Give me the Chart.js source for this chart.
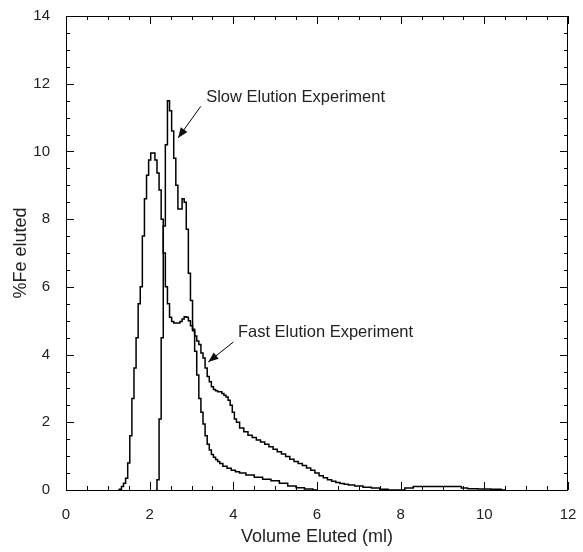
<!DOCTYPE html>
<html>
<head>
<meta charset="utf-8">
<script src="https://cdn.jsdelivr.net/npm/chart.js@4/dist/chart.umd.min.js"></script>
<style>
  html, body { margin: 0; padding: 0; background: #fff; }
  #wrap { width: 583px; height: 552px; }
</style>
</head>
<body>
<div id="wrap"><canvas id="myChart" width="583" height="552"></canvas></div>
<script>
// volume eluted (ml) / %Fe eluted
const fastX = [1.25, 1.30, 1.35, 1.40, 1.45, 1.50, 1.55, 1.60, 1.65, 1.70, 1.75, 1.80, 1.85, 1.90, 1.95,
  2.00, 2.05, 2.10, 2.15, 2.20, 2.25, 2.30, 2.35, 2.40, 2.45, 2.50, 2.55, 2.60, 2.65, 2.70, 2.75,
  2.80, 2.85, 2.90, 2.95, 3.00, 3.05, 3.10, 3.15, 3.20, 3.25, 3.30, 3.35, 3.40, 3.45, 3.50, 3.55,
  3.60, 3.65, 3.70, 3.75, 3.80, 3.85, 3.90, 3.95, 4.00, 4.05, 4.10, 4.20, 4.30, 4.40, 4.50, 4.60,
  4.70, 4.80, 4.90, 5.00, 5.10, 5.20, 5.30, 5.40, 5.50, 5.60, 5.70, 5.80, 5.90, 6.00, 6.10, 6.20,
  6.30, 6.40, 6.50, 6.60, 6.70, 6.80, 7.00, 7.20, 7.40, 7.60, 7.80, 8.00, 8.20, 8.40, 8.60, 8.80,
  9.00, 9.20, 9.40, 9.50, 9.70, 10.00, 10.30, 10.50];
const fastY = [0, 0.02, 0.1, 0.2, 0.35, 0.8, 1.6, 2.7, 3.6, 4.5, 5.5, 6.0, 7.5, 8.6, 9.3,
  9.75, 9.95, 9.95, 9.75, 9.36, 8.86, 8.0, 7.0, 6.0, 5.5, 5.1, 4.98, 4.93, 4.93, 4.93, 4.98,
  5.05, 5.12, 5.1, 5.0, 4.85, 4.75, 4.55, 4.4, 4.3, 4.05, 3.9, 3.6, 3.35, 3.2, 3.05, 2.97,
  2.93, 2.9, 2.9, 2.85, 2.8, 2.75, 2.65, 2.5, 2.3, 2.1, 2.0, 1.83, 1.72, 1.62, 1.55, 1.48,
  1.42, 1.35, 1.28, 1.2, 1.13, 1.06, 0.99, 0.91, 0.84, 0.78, 0.72, 0.65, 0.58, 0.5, 0.42, 0.36,
  0.3, 0.26, 0.22, 0.19, 0.17, 0.15, 0.12, 0.08, 0.06, 0.02, 0, 0, 0.06, 0.1, 0.1, 0.1,
  0.1, 0.1, 0.1, 0.06, 0.04, 0.03, 0.02, 0];

const slowX = [2.15, 2.20, 2.25, 2.30, 2.35, 2.40, 2.45, 2.50, 2.55, 2.60, 2.65, 2.70, 2.75, 2.80,
  2.85, 2.90, 2.95, 3.00, 3.05, 3.10, 3.15, 3.20, 3.25, 3.30, 3.35, 3.40, 3.45, 3.50, 3.55, 3.60,
  3.65, 3.70, 3.80, 3.90, 4.00, 4.10, 4.20, 4.40, 4.60, 4.80, 5.00, 5.20, 5.40, 5.60, 5.80, 6.00];
const slowY = [0, 0.3, 2.1, 4.5, 7.8, 10.2, 11.5, 11.2, 10.6, 9.8, 9.0, 8.3, 8.3, 8.6,
  8.5, 7.7, 6.4, 5.6, 4.7, 4.1, 3.4, 2.7, 2.3, 1.95, 1.6, 1.35, 1.18, 1.05, 0.97, 0.9,
  0.84, 0.78, 0.7, 0.64, 0.58, 0.54, 0.5, 0.44, 0.38, 0.32, 0.27, 0.2, 0.12, 0.07, 0.03, 0];

const xTicks = [0, 2, 4, 6, 8, 10, 12];
const yTicks = [0, 2, 4, 6, 8, 10, 12, 14];

// labels + arrows (data coords)
const notes = [
  { text: 'Slow Elution Experiment', x: 3.35, y: 11.6, from: [3.22, 11.33], to: [2.68, 10.4] },
  { text: 'Fast Elution Experiment', x: 4.11, y: 4.64, from: [4.0, 4.37], to: [3.4, 3.78] }
];

const fontFam = '"Liberation Sans", Arial, Helvetica, sans-serif';

const frameTicks = {
  id: 'frameTicks',
  afterDatasetsDraw(chart) {
    const ctx = chart.ctx;
    const a = chart.chartArea;
    const xs = chart.scales.x, ys = chart.scales.y;
    ctx.save();
    ctx.strokeStyle = '#000';
    ctx.lineWidth = 1;
    ctx.strokeRect(a.left + 0.5, a.top + 0.5, a.right - a.left - 1, a.bottom - a.top);
    for (let v = 0; v <= 12.001; v += 0.5) {
      const px = Math.round(xs.getPixelForValue(v)) + 0.5;
      const len = (Math.abs(v % 2) < 0.01) ? 8 : 4;
      ctx.beginPath();
      ctx.moveTo(px, a.bottom); ctx.lineTo(px, a.bottom - len);
      ctx.moveTo(px, a.top); ctx.lineTo(px, a.top + len);
      ctx.stroke();
    }
    for (let v = 0; v <= 14.001; v += 0.5) {
      const py = Math.round(ys.getPixelForValue(v)) + 0.5;
      const len = (Math.abs(v % 2) < 0.01) ? 8 : 4;
      ctx.beginPath();
      ctx.moveTo(a.left, py); ctx.lineTo(a.left + len, py);
      ctx.moveTo(a.right, py); ctx.lineTo(a.right - len, py);
      ctx.stroke();
    }
    // annotations
    ctx.fillStyle = '#222';
    ctx.font = '16.5px ' + fontFam;
    ctx.textBaseline = 'middle';
    notes.forEach(n => {
      ctx.fillText(n.text, xs.getPixelForValue(n.x), ys.getPixelForValue(n.y));
      const x1 = xs.getPixelForValue(n.from[0]), y1 = ys.getPixelForValue(n.from[1]);
      const x2 = xs.getPixelForValue(n.to[0]), y2 = ys.getPixelForValue(n.to[1]);
      ctx.beginPath();
      ctx.moveTo(x1, y1); ctx.lineTo(x2, y2);
      ctx.stroke();
      const ang = Math.atan2(y2 - y1, x2 - x1);
      const hl = 11, hw = 0.38;
      ctx.beginPath();
      ctx.moveTo(x2, y2);
      ctx.lineTo(x2 - hl * Math.cos(ang - hw), y2 - hl * Math.sin(ang - hw));
      ctx.lineTo(x2 - hl * Math.cos(ang + hw), y2 - hl * Math.sin(ang + hw));
      ctx.closePath();
      ctx.fillStyle = '#111';
      ctx.fill();
      ctx.fillStyle = '#222';
    });
    ctx.restore();
  }
};

const ctx = document.getElementById('myChart').getContext('2d');
const myChart = new Chart(ctx, {
  type: 'line',
  data: {
    datasets: [{
      label: 'Fast Elution Experiment',
      data: fastX.map((x, i) => ({ x: x, y: fastY[i] })),
      borderColor: '#000',
      borderWidth: 1.5,
      pointRadius: 0,
      stepped: 'middle',
      fill: false
    }, {
      label: 'Slow Elution Experiment',
      data: slowX.map((x, i) => ({ x: x, y: slowY[i] })),
      borderColor: '#000',
      borderWidth: 1.5,
      pointRadius: 0,
      stepped: 'middle',
      fill: false
    }]
  },
  options: {
    responsive: false,
    animation: false,
    layout: { padding: { top: 16, right: 15, left: 0, bottom: 0 } },
    plugins: { legend: { display: false }, tooltip: { enabled: false } },
    scales: {
      x: {
        type: 'linear',
        min: 0, max: 12,
        afterBuildTicks(s) { s.ticks = xTicks.map(v => ({ value: v })); },
        afterFit(s) { s.height = 62; s.paddingLeft = 0; s.paddingRight = 0; },
        grid: { display: false },
        border: { display: false },
        ticks: { color: '#222', font: { size: 15, family: fontFam }, padding: 8, maxRotation: 0 },
        title: { display: true, text: 'Volume Eluted (ml)', color: '#222', font: { size: 18, family: fontFam }, padding: { top: 2 } }
      },
      y: {
        type: 'linear',
        min: 0, max: 14,
        afterBuildTicks(s) { s.ticks = yTicks.map(v => ({ value: v })); },
        afterFit(s) { s.width = 66; s.paddingTop = 0; s.paddingBottom = 0; },
        grid: { display: false },
        border: { display: false },
        ticks: { color: '#222', font: { size: 15, family: fontFam }, padding: 8 },
        title: { display: true, text: '%Fe eluted', color: '#222', font: { size: 18, family: fontFam }, padding: { top: 10, bottom: 0 } }
      }
    }
  },
  plugins: [frameTicks]
});
</script>
</body>
</html>
